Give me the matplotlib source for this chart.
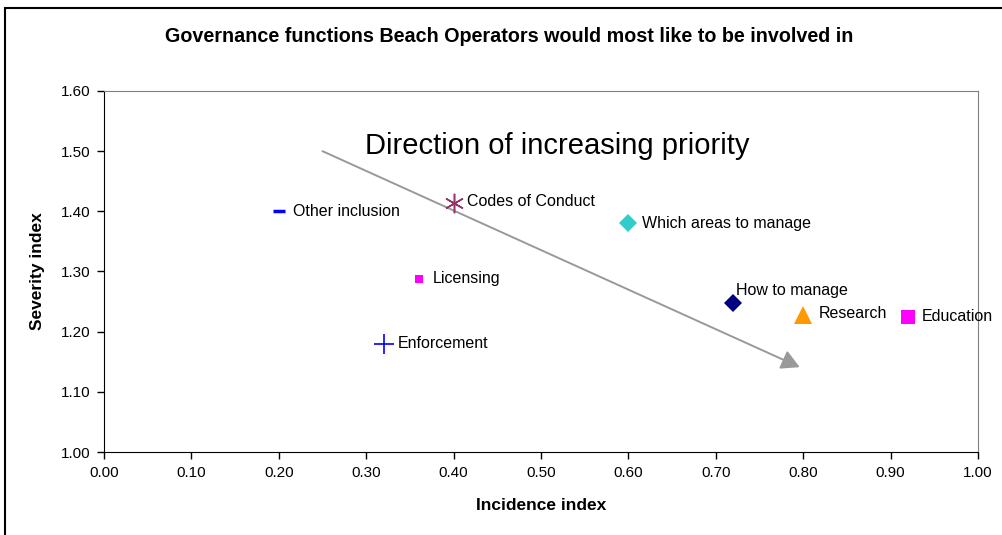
import matplotlib as mpl
mpl.use('Agg')
import matplotlib.pyplot as plt
import matplotlib.ticker as ticker
from matplotlib.patches import Rectangle

plt.rcParams['font.family'] = ['Liberation Sans', 'DejaVu Sans']

# data
labels = ["Other inclusion", "Codes of Conduct", "Licensing", "Enforcement",
          "Which areas to manage", "How to manage", "Research", "Education"]
incidence = [0.20, 0.40, 0.36, 0.32, 0.60, 0.72, 0.80, 0.92]
severity = [1.40, 1.414, 1.288, 1.18, 1.38, 1.248, 1.228, 1.225]

arrow_start = (0.25, 1.50)
arrow_end = (0.796, 1.141)

# marker styles per point (Excel-like)
styles = [
    dict(marker="_", color="#0000FF", ms=9, mew=2.5),
    dict(marker=(6, 2, 0), color="#993366", ms=14, mew=1.1),
    dict(marker="s", color="#FF00FF", ms=6, mew=0),
    dict(marker="+", color="#0000FF", ms=15, mew=1.2),
    dict(marker="D", color="#33CCCC", ms=9, mew=0),
    dict(marker="D", color="#000080", ms=9, mew=0),
    dict(marker="^", color="#FF9900", ms=13, mew=0),
    dict(marker="s", color="#FF00FF", ms=10, mew=0),
]
label_offsets = [(10, 0), (10, 1), (10, 0), (10, 0), (10, 0), (2, 9), (11, 1), (10, 0)]

fig = plt.figure(figsize=(10.02, 5.35), dpi=100)
ax = fig.add_axes([104 / 1002, 1 - 452 / 535, 874 / 1002, 361 / 535])

for x, y, lab, st, off in zip(incidence, severity, labels, styles, label_offsets):
    ax.plot([x], [y], linestyle="none", marker=st["marker"], color=st["color"],
            markersize=st["ms"], markeredgewidth=st["mew"], zorder=5)
    ax.annotate(lab, (x, y), xytext=off, textcoords="offset points",
                ha="left", va="center", fontsize=11.5, color="black", zorder=6)

# direction arrow
ax.annotate("", xy=arrow_end, xytext=arrow_start,
            arrowprops=dict(arrowstyle="-|>,head_length=1.1,head_width=0.6",
                            color="#999999", lw=1.4, shrinkA=0, shrinkB=0))
ax.text(0.299, 1.509, "Direction of increasing priority", fontsize=21,
        ha="left", va="center")

ax.set_xlim(0, 1.0)
ax.set_ylim(1.0, 1.6)
ax.xaxis.set_major_locator(ticker.MultipleLocator(0.1))
ax.yaxis.set_major_locator(ticker.MultipleLocator(0.1))
ax.xaxis.set_major_formatter(ticker.FormatStrFormatter("%.2f"))
ax.yaxis.set_major_formatter(ticker.FormatStrFormatter("%.2f"))
ax.tick_params(axis="both", direction="out", length=5, width=1, labelsize=11, pad=5)

ax.spines["top"].set_color("#808080")
ax.spines["right"].set_color("#808080")
ax.spines["left"].set_color("black")
ax.spines["bottom"].set_color("black")

ax.set_xlabel("Incidence index", fontsize=12.5, fontweight="bold", labelpad=13)
ax.set_ylabel("Severity index", fontsize=12.5, fontweight="bold", labelpad=11)

fig.text(509 / 1002, 1 - 36 / 535, "Governance functions Beach Operators would most like to be involved in",
         ha="center", va="center", fontsize=14.2, fontweight="bold")

# outer chart border
fig.patches.append(Rectangle((5 / 1002, -0.1), 1.2, 1 - 8 / 535 + 0.1,
                             transform=fig.transFigure, fill=False,
                             edgecolor="black", lw=1.5))

fig.savefig("out.png", dpi=100)
